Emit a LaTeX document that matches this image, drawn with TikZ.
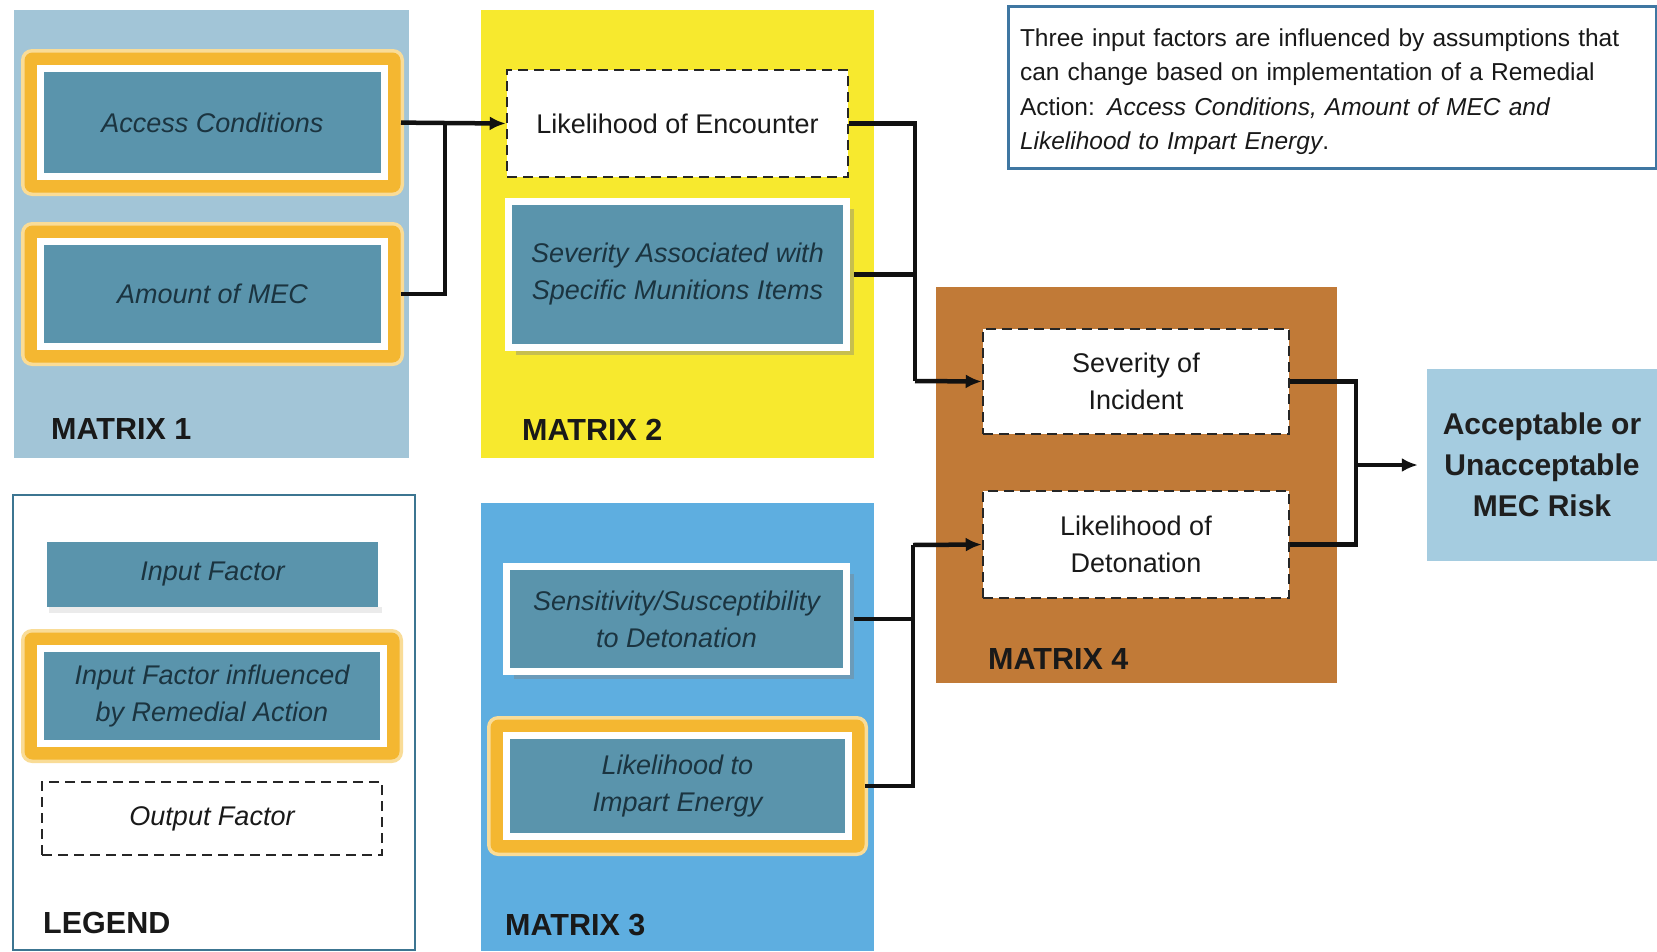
\documentclass[tikz,border=0pt]{standalone}
\usepackage{fontspec}
\setmainfont{Liberation Sans}
\usetikzlibrary{arrows.meta,shadows}
\pgfdeclarelayer{bg}
\pgfdeclarelayer{glowlayer}
\pgfsetlayers{bg,glowlayer,main}
\definecolor{mOne}{HTML}{A2C5D7}
\definecolor{mTwo}{HTML}{F7E92E}
\definecolor{mThree}{HTML}{5EAEE0}
\definecolor{mFour}{HTML}{C17A37}
\definecolor{accfill}{HTML}{A5CCE0}
\definecolor{tealbox}{HTML}{5A94AC}
\definecolor{inkdark}{HTML}{1B3440}
\definecolor{glowin}{HTML}{F4B731}
\definecolor{glowout}{HTML}{F9DC97}
\definecolor{legborder}{HTML}{3C7591}
\definecolor{noteborder}{HTML}{3F77A2}
\definecolor{lineblack}{HTML}{111111}
\newcommand\boxfont{\fontsize{27}{37}\selectfont\itshape}
\newcommand\plainfont{\fontsize{27}{37}\selectfont}
\newcommand\glowbox[1]{%
  \fill[glowout, rounded corners=11pt] ([xshift=-16pt,yshift=-16pt]#1.south west) rectangle ([xshift=16pt,yshift=16pt]#1.north east);
  \fill[glowin, rounded corners=8pt] ([xshift=-12.5pt,yshift=-12.5pt]#1.south west) rectangle ([xshift=12.5pt,yshift=12.5pt]#1.north east);}
\tikzset{
  inbox/.style={rectangle, fill=tealbox, draw=white, line width=7pt, inner sep=0pt,
    text=inkdark, font=\boxfont, align=center},
  plainbox/.style={rectangle, fill=tealbox, draw=none, inner sep=0pt,
    text=inkdark, font=\boxfont, align=center},
  outbox/.style={rectangle, fill=white, draw=black!85, line width=2.5pt,
    dash pattern=on 10pt off 6pt, inner sep=0pt, text=black!90, align=center},
  shadowed/.style={drop shadow={shadow xshift=7pt, shadow yshift=-7pt, fill=black!50, opacity=0.4}},
  mlabel/.style={font=\fontsize{30.5}{36}\selectfont\bfseries, text=black!90, inner sep=0pt},
  conn/.style={draw=lineblack, line width=4.5pt},
  arr/.style={conn, -{Latex[length=16pt,width=14pt]}},
}
\begin{document}
\begin{tikzpicture}[x=1pt,y=-1pt]
\useasboundingbox (0,0) rectangle (1657,951);
\begin{pgfonlayer}{bg}
  \fill[white] (0,0) rectangle (1657,951);
  \fill[mOne] (14,10) rectangle (409,458);
  \fill[mTwo] (481,10) rectangle (874,458);
  \fill[mThree] (481,503) rectangle (874,951);
  \fill[mFour] (936,287) rectangle (1337,683);
  \draw[legborder, line width=2.5pt, fill=white] (13,495) rectangle (415,950);
\end{pgfonlayer}

% Matrix 1
\node[inbox, minimum width=344pt, minimum height=108pt] (ac) at (212.5,122.5) {Access Conditions};
\node[inbox, minimum width=344pt, minimum height=105pt] (am) at (212.5,294) {Amount of MEC};
\node[mlabel, anchor=base west] (m1) at (51,439) {MATRIX 1};

% Matrix 2
\node[outbox, font=\plainfont, minimum width=341pt, minimum height=107pt] (lie) at (677.5,123.5) {Likelihood of Encounter};
\node[inbox, shadowed, minimum width=338pt, minimum height=146pt] (sa) at (677.5,274.5) {Severity Associated with\\Specific Munitions Items};
\node[mlabel, anchor=base west] (m2) at (522,440) {MATRIX 2};

% Matrix 3
\node[inbox, shadowed, minimum width=340pt, minimum height=105pt] (ss) at (676.5,619) {Sensitivity/Susceptibility\\to Detonation};
\node[inbox, minimum width=342pt, minimum height=101pt] (li) at (677.5,786) {Likelihood to\\Impart Energy};
\node[mlabel, anchor=base west] (m3) at (505,935) {MATRIX 3};

% Matrix 4
\node[outbox, font=\plainfont, minimum width=306pt, minimum height=105pt] (si) at (1136,381.5) {Severity of\\Incident};
\node[outbox, font=\plainfont, minimum width=306pt, minimum height=107pt] (ld) at (1136,544.5) {Likelihood of\\Detonation};
\node[mlabel, anchor=base west] (m4) at (988,669) {MATRIX 4};

% Result
\node[rectangle, fill=accfill, inner sep=0pt, minimum width=230pt, minimum height=192pt,
  font=\fontsize{30}{41}\selectfont\bfseries, text=black!88, align=center] (acc) at (1542,465)
  {Acceptable or\\Unacceptable\\MEC Risk};

% Note
\node[rectangle, draw=noteborder, line width=3pt, fill=white, anchor=north west,
  minimum width=648pt, minimum height=162pt, inner xsep=10pt, inner ysep=0pt,
  text width=625pt, align=left, font=\fontsize{24.5}{34.2}\selectfont, text=black!90] (note) at (1007,5)
  {\rule{0pt}{26pt}Three input factors are influenced by assumptions that\\
   can change based on implementation of a Remedial\\
   Action: \textit{Access Conditions, Amount of MEC and}\\
   \textit{Likelihood to Impart Energy}.};

% Legend
\node[plainbox, minimum width=331pt, minimum height=65pt] (lg1) at (212.5,574.5) {Input Factor};
\node[inbox, minimum width=343pt, minimum height=95pt] (lg2) at (212,696) {Input Factor influenced\\by Remedial Action};
\node[outbox, font=\boxfont, minimum width=340pt, minimum height=73pt] (lg3) at (212,818.5) {Output Factor};
\node[mlabel, anchor=base west] (leg) at (43,933) {LEGEND};

% glows
\begin{pgfonlayer}{glowlayer}
  \glowbox{ac}
  \glowbox{am}
  \glowbox{li}
  \glowbox{lg2}
  \fill[black!8] ([xshift=2pt,yshift=-6pt]lg1.south west) rectangle ([xshift=4pt]lg1.south east);
\end{pgfonlayer}

% connectors
\coordinate (j1) at (445,123);
\coordinate (j2) at (915,381);
\coordinate (j3) at (913,545);
\coordinate (j4) at (1356,465);
\draw[conn, shorten <=13pt] (ac.east) -- (j1);
\draw[conn, shorten <=13pt] (am.east) -| (j1);
\draw[arr] (j1) -- (lie.west);
\draw[conn] (lie.east) -| (j2);
\draw[conn, shorten <=4pt] (sa.east) -| (j2);
\draw[arr] (j2) -- (si.west);
\draw[conn, shorten <=4pt] (ss.east) -| (j3);
\draw[conn, shorten <=13pt] (li.east) -| (j3);
\draw[arr] (j3) -- (ld.west);
\draw[conn] (si.east) -| (j4);
\draw[conn] (ld.east) -| (j4);
\draw[arr, shorten >=9pt] (j4) -- (acc.west);
\end{tikzpicture}
\end{document}
